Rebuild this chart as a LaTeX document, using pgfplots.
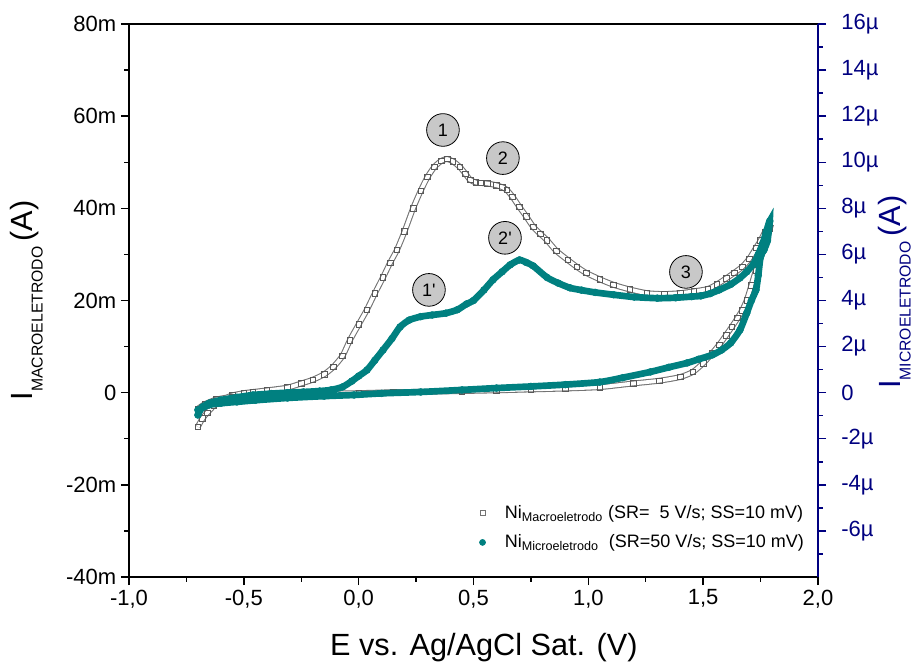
\documentclass[border=0pt]{standalone}
\usepackage{fontspec}
\setmainfont{Liberation Sans}
\usepackage{pgfplots}
\usepackage{pgfplotstable}
\pgfplotsset{compat=1.18}
\definecolor{teal2}{RGB}{0,128,128}
\definecolor{navy2}{RGB}{0,0,128}
\definecolor{circgray}{RGB}{200,200,200}

\pgfplotstableread{
x y
-0.70 -7.4
-0.68 -5.6
-0.66 -4.4
-0.63 -2.8
-0.60 -1.6
-0.55 -0.6
-0.50 -0.1
-0.46 0.15
-0.40 0.5
-0.31 1.1
-0.25 2.0
-0.20 2.8
-0.15 4.0
-0.11 5.6
-0.07 8.0
-0.038 11.4
0.0 14.8
0.036 18
0.07 21.5
0.106 25
0.137 28.2
0.167 31
0.20 35
0.237 40.0
0.27 43.8
0.30 46.8
0.33 49
0.36 50.3
0.385 50.7
0.41 50.2
0.44 49
0.465 47.5
0.485 46.2
0.51 45.6
0.53 45.5
0.56 45.4
0.60 45
0.625 44.6
0.645 44
0.67 42.5
0.70 40.3
0.73 38.2
0.76 36
0.79 34.5
0.82 33.1
0.86 30.8
0.91 28.8
0.95 27.3
0.99 26
1.05 24.6
1.11 23.4
1.18 22.4
1.255 21.6
1.33 21.4
1.40 21.6
1.46 22
1.52 22.5
1.56 23.5
1.60 24.8
1.635 26
1.67 27.3
1.70 29
1.73 31.4
1.75 33
1.77 34.9
1.79 35.6
1.775 33.8
1.76 30.8
1.745 28.5
1.73 26.6
1.71 23.3
1.69 20.1
1.67 17.9
1.65 16.2
1.625 14.3
1.60 12.5
1.57 10.4
1.54 8.6
1.50 6.4
1.455 4.5
1.40 3.4
1.31 2.6
1.195 2.0
1.05 1.2
0.90 0.9
0.75 0.7
0.60 0.5
0.45 0.35
0.30 0.2
0.15 0.1
0.00 -0.1
-0.15 -0.2
-0.30 -0.4
-0.45 -0.6
-0.55 -0.9
-0.62 -1.5
-0.67 -2.5
-0.70 -3.5
}\macro

\pgfplotstableread{
x y
-0.70 -0.97
-0.69 -0.75
-0.68 -0.62
-0.65 -0.45
-0.60 -0.32
-0.53 -0.2
-0.46 -0.1
-0.38 -0.04
-0.31 0.0
-0.24 0.03
-0.17 0.07
-0.12 0.12
-0.07 0.25
-0.03 0.5
0.0 0.72
0.036 0.98
0.07 1.4
0.106 1.85
0.145 2.35
0.18 2.85
0.22 3.15
0.27 3.3
0.32 3.37
0.38 3.45
0.43 3.6
0.47 3.85
0.50 4.0
0.545 4.45
0.585 4.9
0.625 5.25
0.66 5.55
0.70 5.76
0.73 5.65
0.76 5.5
0.82 5.0
0.87 4.75
0.92 4.55
0.97 4.45
1.03 4.35
1.11 4.25
1.20 4.15
1.30 4.1
1.38 4.12
1.45 4.17
1.49 4.2
1.53 4.3
1.57 4.46
1.62 4.7
1.66 4.98
1.69 5.25
1.72 5.6
1.74 6.0
1.76 6.5
1.775 7.0
1.79 7.45
1.78 6.6
1.765 6.2
1.75 5.9
1.74 5.1
1.73 4.46
1.71 4.0
1.69 3.46
1.66 2.72
1.62 2.16
1.58 1.85
1.54 1.64
1.48 1.45
1.43 1.29
1.35 1.1
1.27 0.9
1.15 0.65
1.05 0.46
0.90 0.35
0.75 0.27
0.60 0.2
0.45 0.12
0.27 0.03
0.10 -0.03
-0.02 -0.1
-0.15 -0.15
-0.31 -0.23
-0.45 -0.33
-0.53 -0.4
-0.60 -0.46
-0.65 -0.53
-0.70 -0.75
}\micro

\begin{document}
\begin{tikzpicture}
\useasboundingbox (-96.75pt,-65.25pt) rectangle (587.25pt,432.75pt);
\begin{axis}[
  at={(0pt,0pt)}, anchor=south west, scale only axis,
  width=516.75pt, height=414.75pt,
  xmin=-1, xmax=2, ymin=-40, ymax=80,
  axis line style={line width=1.1pt},
  tick style={line width=1.1pt, black},
  major tick length=6pt, minor tick length=3.5pt,
  tick align=outside, tick pos=left,
  xtick={-1,-0.5,0,0.5,1,1.5,2},
  xticklabels={{-1,0},{-0,5},{0,0},{0,5},{1,0},{1,5},{2,0}},
  minor xtick={-0.75,-0.25,0.25,0.75,1.25,1.75},
  ytick={-40,-20,0,20,40,60,80},
  yticklabels={-40m,-20m,0,20m,40m,60m,80m},
  minor ytick={-30,-10,10,30,50,70},
  ticklabel style={font=\fontsize{16.5}{18}\selectfont},
  xlabel={E vs. Ag/AgCl Sat. (V)},
  xlabel style={font=\fontsize{23}{26}\selectfont, at={(axis description cs:0.515,0)}, anchor=base, yshift=-58.5pt},
  ylabel={I\raisebox{-7.5pt}{\fontsize{11.8}{13}\selectfont MACROELETRODO}\,(A)},
  ylabel style={font=\fontsize{23}{26}\selectfont, at={(axis description cs:-0.1248,0.5)}, anchor=south, rotate=0, inner sep=0pt},
]
\addplot[smooth, tension=0.4, line width=4.4pt, black!55] table {\macro};
\addplot[smooth, tension=0.4, line width=2.8pt, white] table {\macro};
\addplot[only marks, mark=square, mark size=2.1pt, mark options={black!65, line width=0.5pt, fill=white}] table {\macro};

\begin{scope}[every node/.style={circle, draw=black, line width=0.6pt, fill=circgray, minimum size=24.5pt, inner sep=0pt, font=\fontsize{13.5}{15}\selectfont}]
\node at (axis cs:0.367,57.0) {1};
\node at (axis cs:0.628,50.9) {2};
\node at (axis cs:0.637,33.6) {2\textquotesingle};
\node at (axis cs:0.306,22.3) {1\textquotesingle};
\node at (axis cs:1.425,26.2) {3};
\end{scope}
\end{axis}

\begin{axis}[
  at={(0pt,0pt)}, anchor=south west, scale only axis,
  width=516.75pt, height=414.75pt,
  xmin=-1, xmax=2, ymin=-8, ymax=16,
  axis x line=none, axis y line*=right,
  y axis line style={navy2, line width=1.1pt},
  ytick style={navy2, line width=1.1pt},
  major tick length=6pt, minor tick length=3.5pt,
  tick align=outside,
  ytick={-6,-4,-2,0,2,4,6,8,10,12,14,16},
  yticklabels={-6µ,-4µ,-2µ,0,2µ,4µ,6µ,8µ,10µ,12µ,14µ,16µ},
  minor ytick={-7,-5,-3,-1,1,3,5,7,9,11,13,15},
  yticklabel style={navy2, font=\fontsize{16.5}{18}\selectfont, xshift=8pt},
  ylabel={I\raisebox{-7.5pt}{\fontsize{11.8}{13}\selectfont MICROELETRODO}\,(A)},
  ylabel style={navy2, font=\fontsize{23}{26}\selectfont, at={(axis description cs:1.0871,0.515)}, anchor=north, rotate=0, inner sep=0pt},
  legend style={draw=none, fill=none, at={(axis description cs:0.49,0.14)}, anchor=north west, font=\fontsize{13.5}{15}\selectfont, row sep=7pt, /tikz/every odd column/.style={column sep=6pt}},
  legend cell align=left,
  legend image code/.code={\path (0cm,0cm) (0.6cm,0cm); \draw[#1] plot coordinates {(0.3cm,0cm)};},
]
\addlegendimage{only marks, mark=square, mark size=1.8pt, mark options={black!55, line width=0.5pt}}
\addlegendentry{Ni\textsubscript{Macroeletrodo} (SR=\ \ 5 V/s; SS=10 mV)}
\addlegendimage{only marks, mark=*, mark size=2.3pt, teal2}
\addlegendentry{Ni\textsubscript{Microeletrodo} \ (SR=50 V/s; SS=10 mV)}
\addplot[forget plot, smooth, tension=0.4, line width=5pt, teal2] table {\micro};
\addplot[forget plot, only marks, mark=*, mark size=2.6pt, teal2] table {\micro};
\end{axis}
\end{tikzpicture}
\end{document}
